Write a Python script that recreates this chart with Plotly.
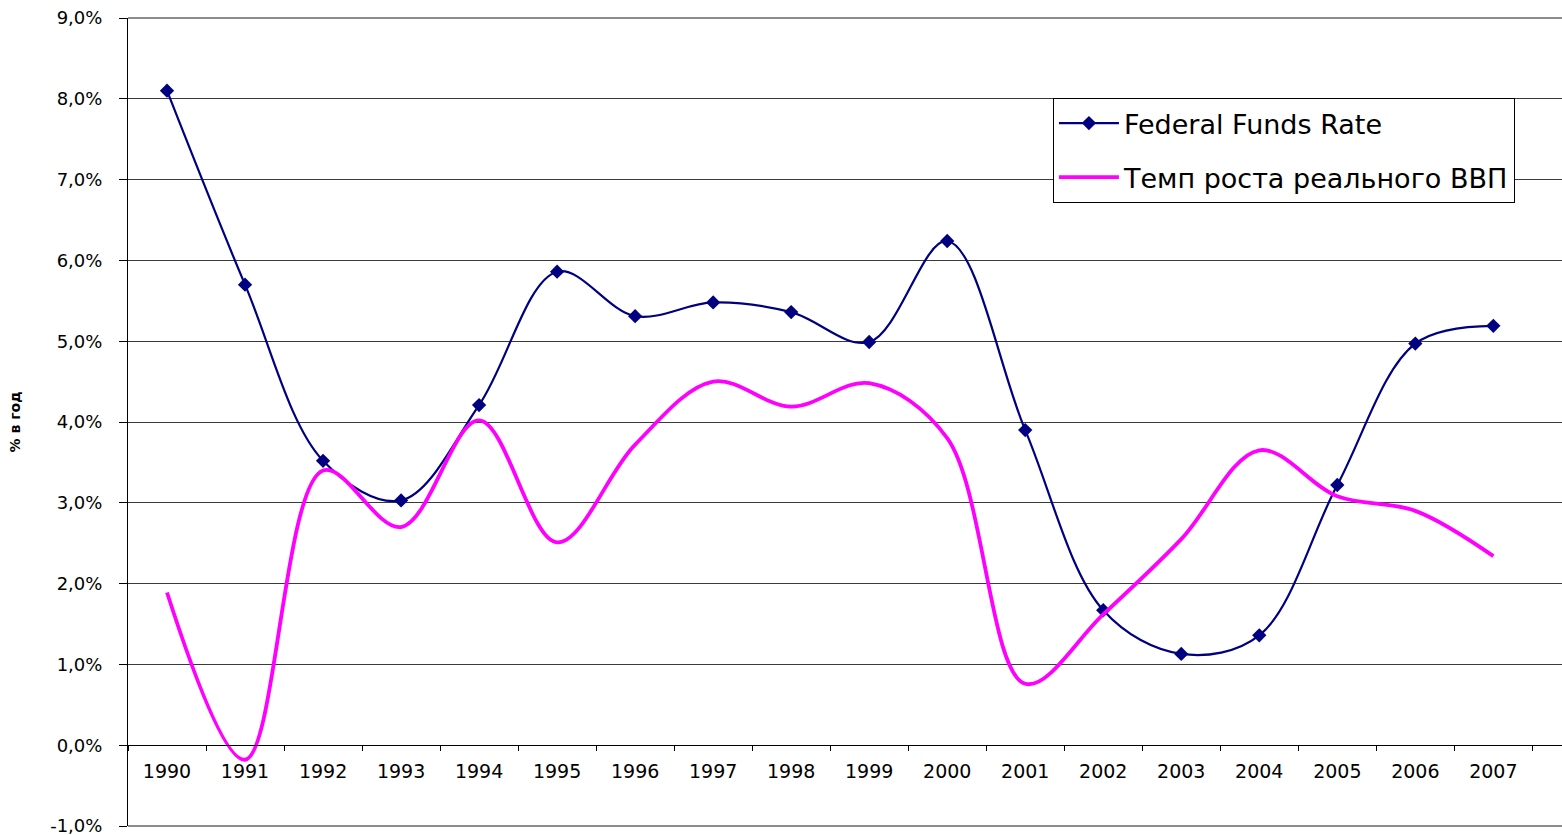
import plotly.graph_objects as go

years = [str(y) for y in range(1990, 2008)]
fed_funds = [8.10, 5.70, 3.52, 3.03, 4.21, 5.86, 5.31, 5.48, 5.36, 4.99, 6.24,
             3.90, 1.67, 1.13, 1.36, 3.22, 4.97, 5.19]
gdp_growth = [1.89, -0.18, 3.40, 2.70, 4.02, 2.51, 3.72, 4.50, 4.19, 4.48, 3.80,
              0.76, 1.62, 2.55, 3.65, 3.08, 2.90, 2.34]

y_ticks = list(range(-1, 10))
y_tick_text = [f"{v:.1f}%".replace(".", ",") for v in y_ticks]
y_title = "% в год"
name_fed = "Federal Funds Rate"
name_gdp = "Темп роста реального ВВП"

FONT = "DejaVu Sans, Liberation Sans, Arial, sans-serif"

fig = go.Figure()
fig.add_trace(go.Scatter(
    x=years, y=fed_funds, name=name_fed, legendgroup="a",
    mode="lines+markers",
    line=dict(color="#000080", width=2.2, shape="spline", smoothing=1.0),
    marker=dict(symbol="diamond", size=11, color="#000080"),
))
fig.add_trace(go.Scatter(
    x=years, y=gdp_growth, name=name_gdp, legendgroup="b",
    mode="lines",
    line=dict(color="#FF00FF", width=3.8, shape="spline", smoothing=1.0),
))

# frame lines at top and bottom of the plot area
for yy in (0, 1):
    fig.add_shape(type="line", xref="paper", yref="paper", x0=0, x1=1, y0=yy, y1=yy,
                  line=dict(color="#8c8c8c", width=2), layer="below")

fig.update_layout(
    width=1562, height=835,
    margin=dict(l=128, r=0, t=18, b=9),
    paper_bgcolor="white", plot_bgcolor="white",
    font=dict(family=FONT, color="black"),
    legend=dict(
        x=0.645, y=0.901, xanchor="left", yanchor="top",
        bgcolor="white", bordercolor="black", borderwidth=1,
        font=dict(size=27, color="black", family=FONT),
        traceorder="grouped", tracegroupgap=16, itemwidth=60,
    ),
    xaxis=dict(
        type="category", anchor="free", position=0.1,
        range=[-0.5, 17.88],
        showline=True, linecolor="black", linewidth=1,
        ticks="outside", tickson="boundaries", ticklen=5, tickcolor="black",
        ticklabelstandoff=9,
        showgrid=False,
        tickfont=dict(size=19, color="black"),
    ),
    yaxis=dict(
        range=[-1, 9], tickmode="array", tickvals=y_ticks, ticktext=y_tick_text,
        showline=True, linecolor="black", linewidth=1,
        ticks="outside", ticklen=8, tickcolor="black",
        ticklabelstandoff=13, ticklabeloverflow="allow",
        showgrid=True, gridcolor="#3a3a3a", gridwidth=1,
        zeroline=False,
        tickfont=dict(size=18, color="black"),
        title=dict(text="<b>" + y_title + "</b>",
                   font=dict(size=14, color="black", family=FONT),
                   standoff=26),
    ),
)

fig.write_html("out.html", config={"displayModeBar": False},
               post_script="document.body.style.margin='0';")
